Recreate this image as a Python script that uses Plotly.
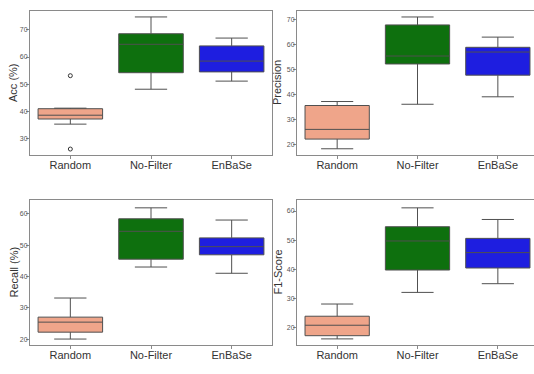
import plotly.graph_objects as go

categories = ["Random", "No-Filter", "EnBaSe"]
colors = ["#EFA58A", "#0E700E", "#1E1EE0"]

metrics = ["Acc (%)", "Precision", "Recall (%)", "F1-Score"]

# box statistics per metric: lists ordered as categories
acc_q1 = [37.1, 54.2, 54.5]
acc_med = [38.5, 64.7, 58.5]
acc_q3 = [40.9, 68.6, 64.1]
acc_lo = [35.2, 48.1, 51.1]
acc_hi = [41.1, 74.8, 67.0]
acc_outliers_cat = ["Random", "Random"]
acc_outliers_val = [53.1, 26.0]

prec_q1 = [22.1, 52.3, 47.8]
prec_med = [26.0, 55.5, 57.1]
prec_q3 = [35.6, 68.0, 59.0]
prec_lo = [18.2, 36.1, 39.1]
prec_hi = [37.2, 71.2, 63.1]

rec_q1 = [22.2, 45.5, 46.9]
rec_med = [25.4, 54.4, 49.5]
rec_q3 = [27.0, 58.4, 52.3]
rec_lo = [20.0, 43.0, 41.0]
rec_hi = [33.1, 61.9, 58.0]

f1_q1 = [17.1, 39.7, 40.4]
f1_med = [20.7, 49.7, 45.7]
f1_q3 = [23.8, 54.6, 50.6]
f1_lo = [16.0, 32.0, 35.0]
f1_hi = [28.0, 61.1, 57.1]

stats = [
    (acc_q1, acc_med, acc_q3, acc_lo, acc_hi),
    (prec_q1, prec_med, prec_q3, prec_lo, prec_hi),
    (rec_q1, rec_med, rec_q3, rec_lo, rec_hi),
    (f1_q1, f1_med, f1_q3, f1_lo, f1_hi),
]
yranges = [[23.8, 77.0], [15.7, 73.6], [18.1, 64.4], [13.9, 63.8]]
ytick_vals = [[30, 40, 50, 60, 70], [20, 30, 40, 50, 60, 70], [20, 30, 40, 50, 60], [20, 30, 40, 50, 60]]

W, H = 534, 374
xdoms = [[30 / W, 272 / W], [297 / W, 1.0]]
ydoms = [[1 - 155 / H, 1 - 11 / H], [1 - 345 / H, 1 - 200 / H]]
xranges = [[-0.5, 2.5], [-0.5, 2.45]]
title_x = [13 / W, 277 / W]

fig = go.Figure()
layout = dict(
    width=W, height=H, margin=dict(l=0, r=0, t=0, b=0),
    paper_bgcolor="white", plot_bgcolor="white", showlegend=False,
    font=dict(family="Liberation Sans, Arial, sans-serif"),
)
annotations = []

for i, (q1, med, q3, lo, hi) in enumerate(stats):
    r, c = divmod(i, 2)
    ax = "" if i == 0 else str(i + 1)
    for j, cat in enumerate(categories):
        fig.add_trace(go.Box(
            x=[cat], q1=[q1[j]], median=[med[j]], q3=[q3[j]],
            lowerfence=[lo[j]], upperfence=[hi[j]],
            fillcolor=colors[j], line=dict(color="#505050", width=1),
            width=0.8, whiskerwidth=0.5, boxpoints=False,
            xaxis="x" + ax, yaxis="y" + ax, hoverinfo="skip",
        ))
    if i == 0:
        fig.add_trace(go.Scatter(
            x=acc_outliers_cat, y=acc_outliers_val, mode="markers",
            marker=dict(symbol="circle-open", size=4, color="#333333", line=dict(width=1)),
            xaxis="x", yaxis="y", hoverinfo="skip",
        ))
    layout["xaxis" + ax] = dict(
        domain=xdoms[c], anchor="y" + ax, type="category",
        categoryorder="array", categoryarray=categories,
        range=xranges[c], showline=True, mirror=True, linecolor="#8a8a8a", linewidth=1,
        ticks="outside", ticklen=3, tickcolor="#8a8a8a", ticklabelstandoff=-3,
        tickfont=dict(size=11, color="#333333"), showgrid=False, zeroline=False,
    )
    layout["yaxis" + ax] = dict(
        domain=ydoms[r], anchor="x" + ax, range=yranges[i],
        tickvals=ytick_vals[i],
        showline=True, mirror=True, linecolor="#8a8a8a", linewidth=1,
        ticks="outside", ticklen=3, tickcolor="#8a8a8a", ticklabelstandoff=-3,
        tickfont=dict(size=7, color="#555555"), showgrid=False, zeroline=False,
    )
    annotations.append(dict(
        text=metrics[i], textangle=-90, xref="paper", yref="paper",
        x=title_x[c], y=sum(ydoms[r]) / 2, xanchor="center", yanchor="middle",
        showarrow=False, font=dict(size=11, color="#333333"),
    ))

layout["annotations"] = annotations
fig.update_layout(**layout)
fig.write_html("out.html")
